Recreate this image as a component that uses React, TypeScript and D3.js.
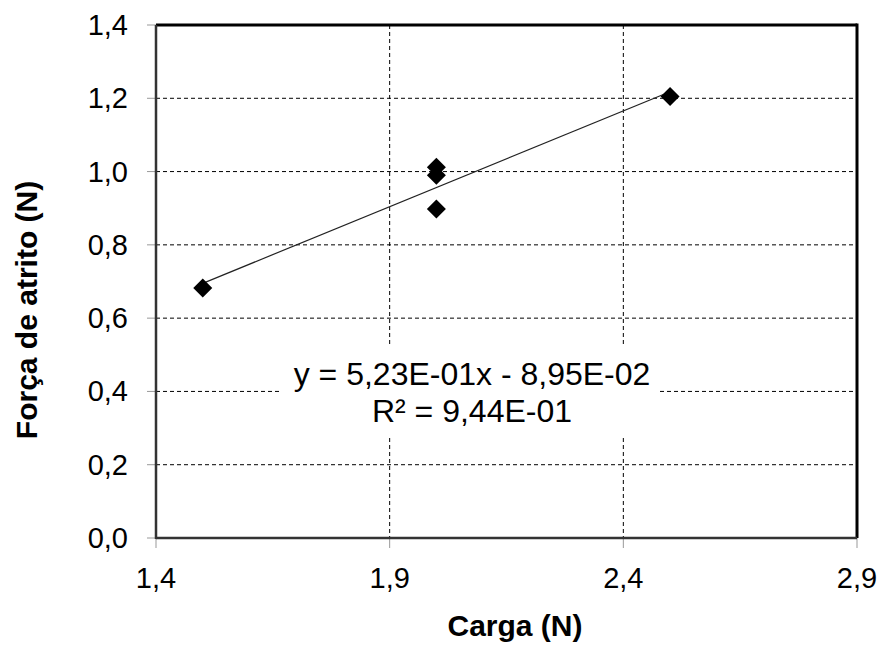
import React from "react";
import * as d3 from "d3";

const xValues = [1.5, 2.0, 2.0, 2.0, 2.5];
const yValues = [0.682, 1.012, 0.99, 0.898, 1.205];
const xTicks = [1.4, 1.9, 2.4, 2.9];
const yTicks = [0, 0.2, 0.4, 0.6, 0.8, 1.0, 1.2, 1.4];
const slope = 0.523;
const intercept = -0.0895;
const eqLine1 = "y = 5,23E-01x - 8,95E-02";
const eqLine2 = "R² = 9,44E-01";

const W = 882, H = 646;
const L = 156, R = 857, T = 25, B = 538;

export default function App() {
  const x = d3.scaleLinear().domain([1.4, 2.9]).range([L, R]);
  const y = d3.scaleLinear().domain([0, 1.4]).range([B, T]);
  const fmt = (v: number) => v.toFixed(1).replace(".", ",");
  const xMin = d3.min(xValues)!, xMax = d3.max(xValues)!;
  const diamond = d3.symbol().type(d3.symbolDiamond2).size(230)();
  const font = "'Liberation Sans', Arial, sans-serif";
  return (
    <svg width={W} height={H} style={{ position: "absolute", left: 0, top: 0, background: "#fff" }} fontFamily={font}>
      <rect x={0} y={0} width={W} height={H} fill="#fff" />
      {yTicks.filter(v => v > 0 && v < 1.4).map(v => (
        <line key={"gy" + v} x1={L} x2={R} y1={y(v)} y2={y(v)} stroke="#000" strokeWidth={1} strokeDasharray="4,3" />
      ))}
      {xTicks.filter(v => v > 1.4 && v < 2.9).map(v => (
        <line key={"gx" + v} x1={x(v)} x2={x(v)} y1={T} y2={B} stroke="#000" strokeWidth={1} strokeDasharray="4,3" />
      ))}
      <rect x={282} y={347} width={376} height={91} fill="#fff" />
      {yTicks.map(v => (
        <g key={"ty" + v}>
          <line x1={L - 9} x2={L} y1={y(v)} y2={y(v)} stroke="#999" strokeWidth={1} />
          <text x={128} y={y(v) + 10} textAnchor="end" fontSize={29} fill="#000">{fmt(v)}</text>
        </g>
      ))}
      {xTicks.map(v => (
        <g key={"tx" + v}>
          <line x1={x(v)} x2={x(v)} y1={B} y2={B + 10} stroke="#999" strokeWidth={1} />
          <text x={x(v)} y={588} textAnchor="middle" fontSize={29} fill="#000">{fmt(v)}</text>
        </g>
      ))}
      <line x1={L} x2={R} y1={T} y2={T} stroke="#000" strokeWidth={3} />
      <line x1={R} x2={R} y1={T - 1.5} y2={B} stroke="#000" strokeWidth={3} />
      <line x1={L} x2={L} y1={T} y2={B + 1} stroke="#333" strokeWidth={2.5} />
      <line x1={L} x2={R} y1={B} y2={B} stroke="#333" strokeWidth={2.5} />
      <line x1={x(xMin)} x2={x(xMax)} y1={y(slope * xMin + intercept)} y2={y(slope * xMax + intercept)} stroke="#222" strokeWidth={1.2} />
      {xValues.map((xv, i) => (
        <path key={"p" + i} d={diamond!} transform={`translate(${x(xv)},${y(yValues[i])})`} fill="#000" />
      ))}
      <text x={472} y={385} textAnchor="middle" fontSize={32} fill="#000">{eqLine1}</text>
      <text x={472} y={422} textAnchor="middle" fontSize={32} fill="#000">{eqLine2}</text>
      <text x={515} y={636} textAnchor="middle" fontSize={30} fontWeight="bold" fill="#000">Carga (N)</text>
      <text transform={`translate(37,310) rotate(-90)`} textAnchor="middle" fontSize={30} fontWeight="bold" fill="#000">Força de atrito (N)</text>
    </svg>
  );
}
